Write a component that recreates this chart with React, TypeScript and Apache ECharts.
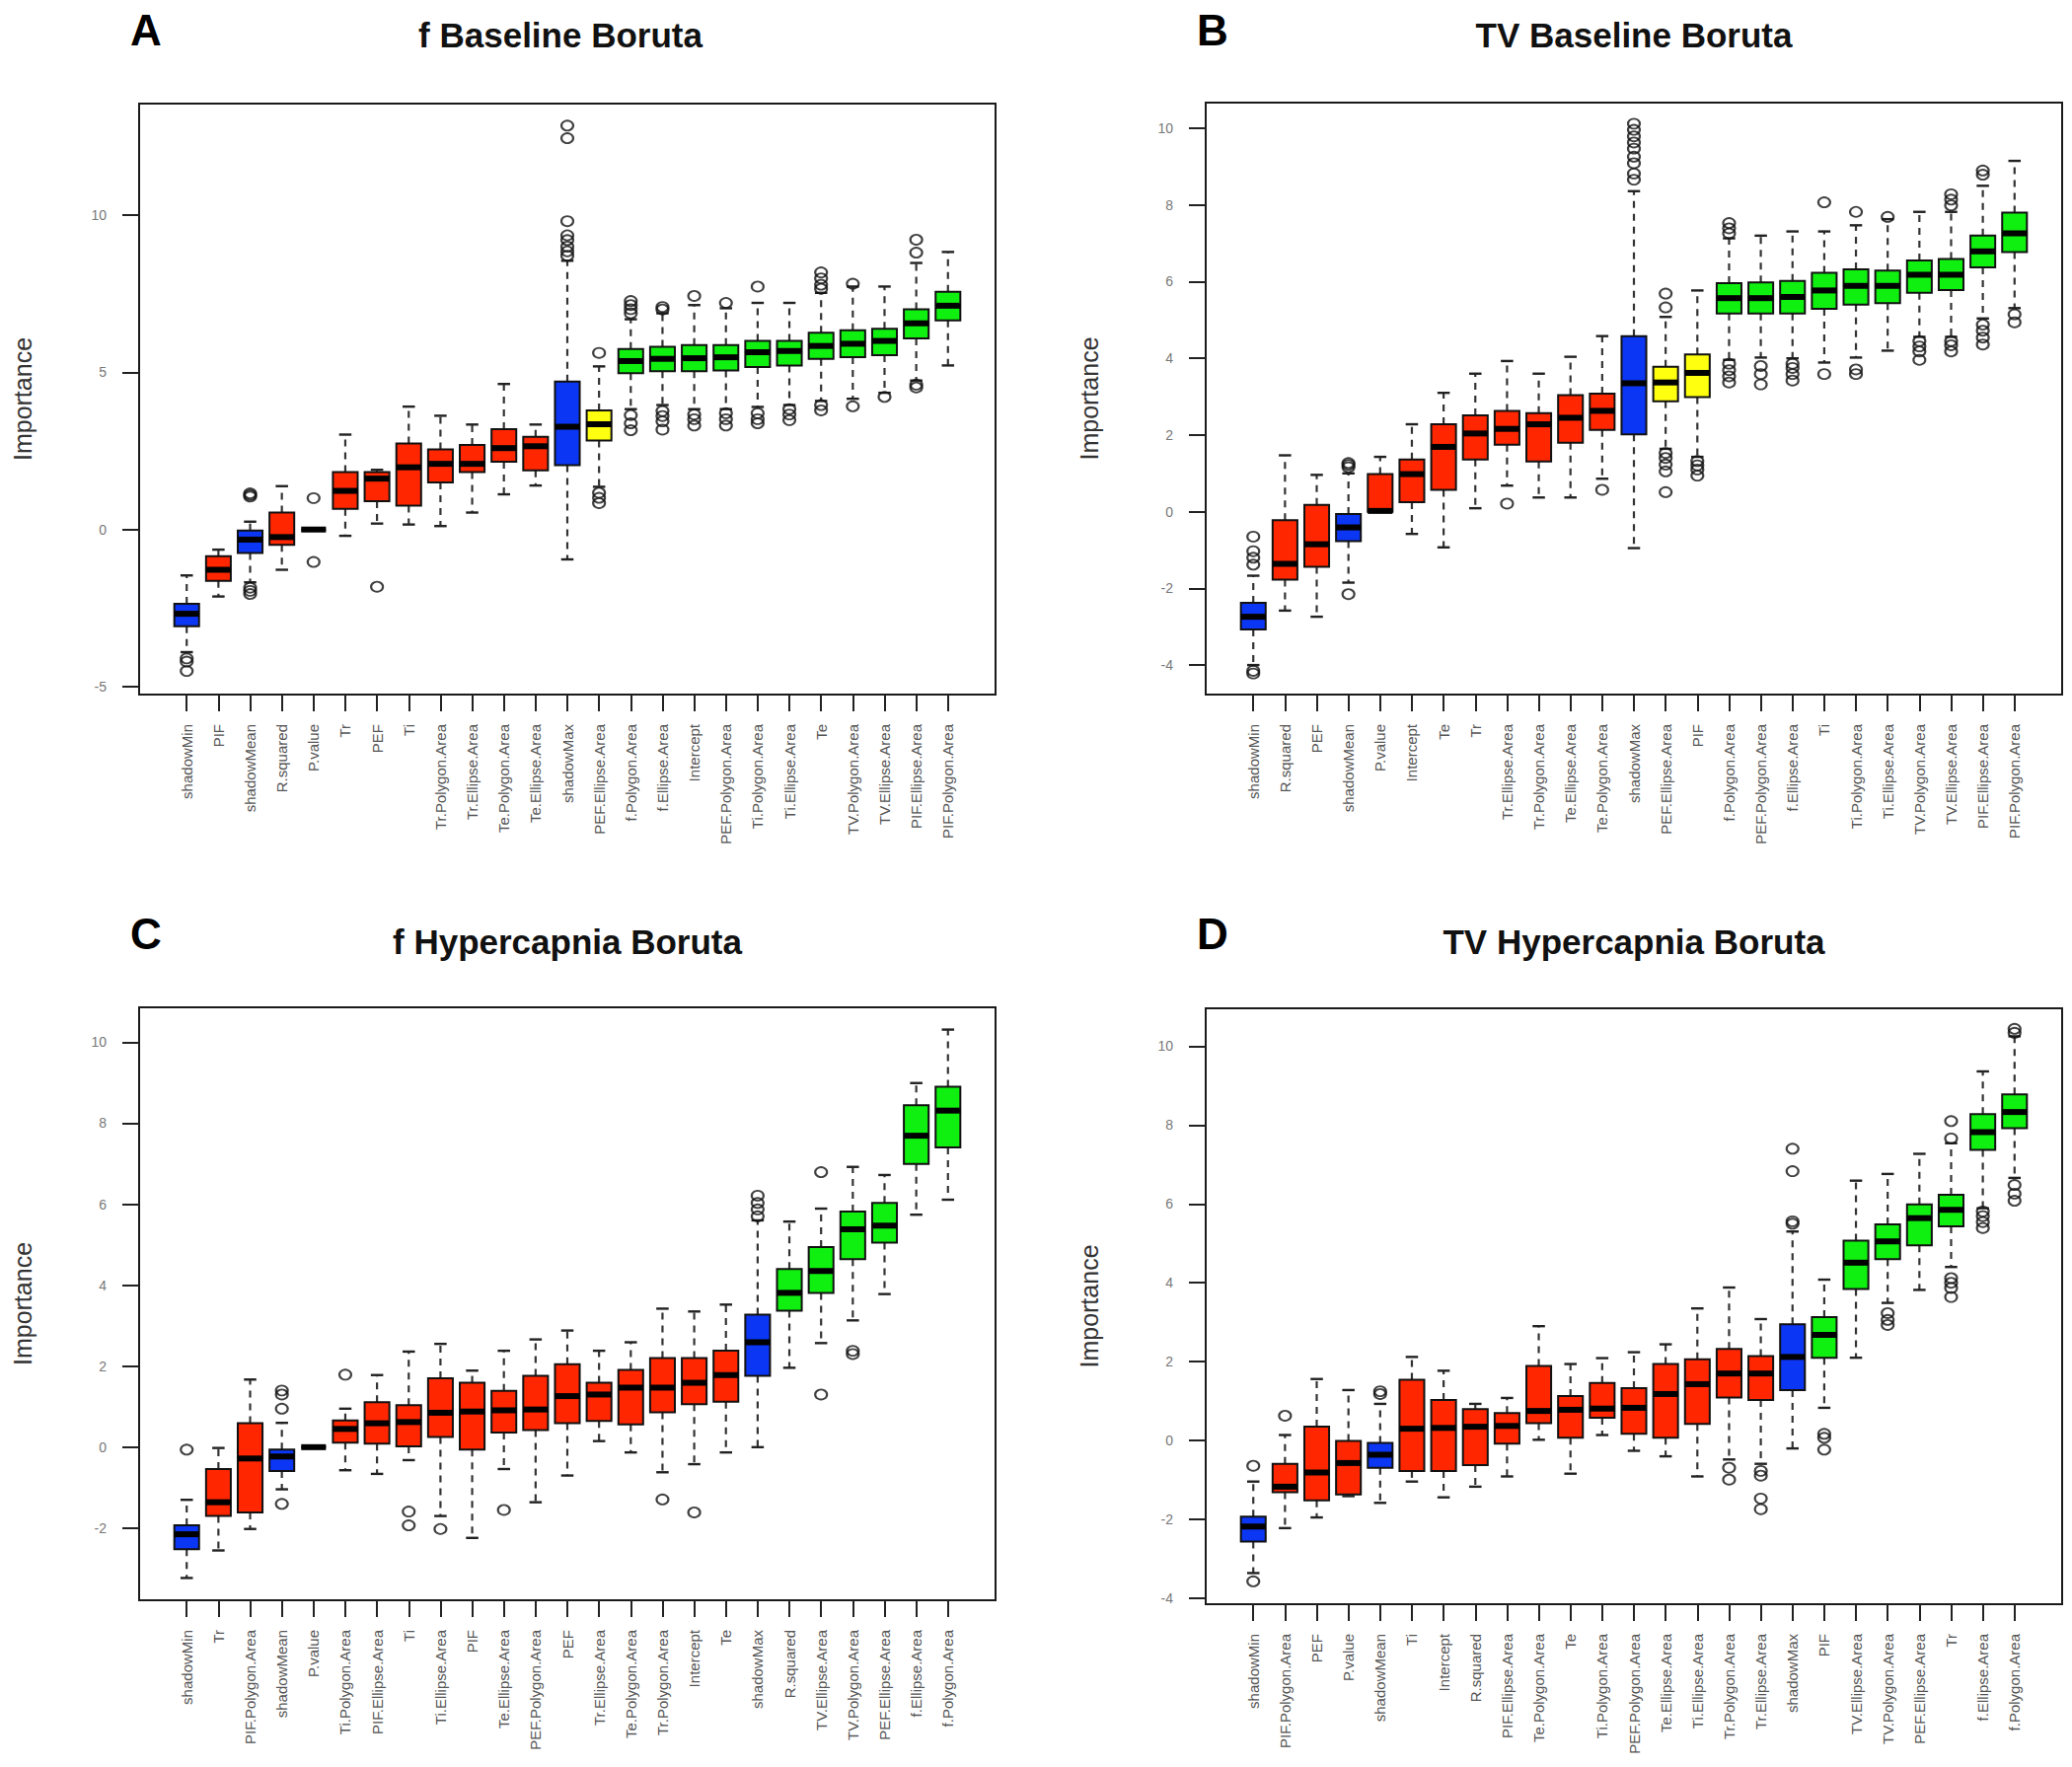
import React, { useEffect, useRef } from 'react';
import * as echarts from 'echarts';

const FONT = '"Liberation Sans", Arial, Helvetica, sans-serif';

// status: S = shadow (blue), R = rejected (red), T = tentative (yellow), C = confirmed (green)
const STATUS_COLORS: Record<string, string> = { S: '#0B36F4', R: '#FF2600', T: '#FFFF10', C: '#10F010' };

// ---------- Panel A : f Baseline Boruta ----------
const namesA = ['shadowMin', 'PIF', 'shadowMean', 'R.squared', 'P.value', 'Tr', 'PEF', 'Ti', 'Tr.Polygon.Area', 'Tr.Ellipse.Area', 'Te.Polygon.Area', 'Te.Ellipse.Area', 'shadowMax', 'PEF.Ellipse.Area', 'f.Polygon.Area', 'f.Ellipse.Area', 'Intercept', 'PEF.Polygon.Area', 'Ti.Polygon.Area', 'Ti.Ellipse.Area', 'Te', 'TV.Polygon.Area', 'TV.Ellipse.Area', 'PIF.Ellipse.Area', 'PIF.Polygon.Area'];
const statusA = ['S', 'R', 'S', 'R', 'R', 'R', 'R', 'R', 'R', 'R', 'R', 'R', 'S', 'T', 'C', 'C', 'C', 'C', 'C', 'C', 'C', 'C', 'C', 'C', 'C'];
const lowA = [-3.9, -2.13, -1.68, -1.28, 0, -0.2, 0.19, 0.16, 0.11, 0.54, 1.12, 1.4, -0.95, 1.36, 3.83, 3.96, 3.83, 3.83, 3.9, 3.96, 4.09, 4.16, 4.35, 4.74, 5.22];
const q1A = [-3.08, -1.63, -0.75, -0.49, 0, 0.66, 0.9, 0.76, 1.5, 1.83, 2.16, 1.88, 2.05, 2.83, 4.97, 5.04, 5.04, 5.06, 5.17, 5.22, 5.43, 5.48, 5.55, 6.08, 6.65];
const medA = [-2.68, -1.28, -0.32, -0.24, 0, 1.23, 1.62, 1.98, 2.09, 2.09, 2.59, 2.65, 3.27, 3.35, 5.36, 5.43, 5.45, 5.48, 5.64, 5.68, 5.84, 5.91, 6.0, 6.56, 7.12];
const q3A = [-2.36, -0.85, -0.03, 0.54, 0, 1.83, 1.83, 2.74, 2.55, 2.69, 3.19, 2.95, 4.71, 3.79, 5.74, 5.81, 5.87, 5.87, 6.0, 6.0, 6.26, 6.34, 6.39, 7.01, 7.56];
const highA = [-1.46, -0.64, 0.25, 1.38, 0, 3.02, 1.9, 3.91, 3.62, 3.34, 4.63, 3.34, 8.55, 5.19, 6.69, 6.88, 7.14, 7.04, 7.21, 7.21, 7.53, 7.73, 7.73, 8.48, 8.83];
const outA = [
  [-4.1, -4.2, -4.5], [], [1.05, 1.1, 1.15, -1.85, -1.95, -2.05], [], [1.0, -1.03], [], [-1.82], [], [], [], [], [],
  [12.85, 12.45, 9.81, 9.36, 9.21, 9.0, 8.85, 8.71], [5.62, 1.17, 1.01, 0.84],
  [7.27, 7.14, 7.01, 6.88, 3.64, 3.38, 3.16], [7.08, 7.0, 3.77, 3.61, 3.44, 3.18], [7.43, 3.66, 3.51, 3.31],
  [7.21, 3.7, 3.51, 3.31], [7.73, 3.7, 3.51, 3.38], [3.83, 3.66, 3.48], [8.18, 7.99, 7.79, 7.66, 3.96, 3.79],
  [7.82, 3.92], [4.22], [9.22, 8.81, 4.61, 4.52], [],
];
const yTicksA = [-5, 0, 5, 10];

// ---------- Panel B : TV Baseline Boruta ----------
const namesB = ['shadowMin', 'R.squared', 'PEF', 'shadowMean', 'P.value', 'Intercept', 'Te', 'Tr', 'Tr.Ellipse.Area', 'Tr.Polygon.Area', 'Te.Ellipse.Area', 'Te.Polygon.Area', 'shadowMax', 'PEF.Ellipse.Area', 'PIF', 'f.Polygon.Area', 'PEF.Polygon.Area', 'f.Ellipse.Area', 'Ti', 'Ti.Polygon.Area', 'Ti.Ellipse.Area', 'TV.Polygon.Area', 'TV.Ellipse.Area', 'PIF.Ellipse.Area', 'PIF.Polygon.Area'];
const statusB = ['S', 'R', 'R', 'S', 'R', 'R', 'R', 'R', 'R', 'R', 'R', 'R', 'S', 'T', 'T', 'C', 'C', 'C', 'C', 'C', 'C', 'C', 'C', 'C', 'C'];
const lowB = [-4.0, -2.58, -2.74, -1.85, 0, -0.58, -0.93, 0.09, 0.68, 0.37, 0.37, 0.86, -0.95, 1.64, 1.43, 3.96, 4.02, 4.0, 3.89, 4.02, 4.2, 4.56, 4.56, 5.04, 5.31];
const q1B = [-3.07, -1.77, -1.44, -0.77, 0, 0.25, 0.57, 1.36, 1.75, 1.31, 1.8, 2.13, 2.02, 2.88, 2.99, 5.17, 5.17, 5.17, 5.29, 5.4, 5.44, 5.71, 5.78, 6.37, 6.77];
const medB = [-2.74, -1.36, -0.85, -0.41, 0.02, 0.98, 1.69, 2.04, 2.16, 2.28, 2.45, 2.63, 3.35, 3.37, 3.62, 5.57, 5.57, 5.6, 5.77, 5.89, 5.89, 6.18, 6.18, 6.79, 7.26];
const q3B = [-2.38, -0.22, 0.18, -0.06, 0.98, 1.36, 2.28, 2.51, 2.63, 2.57, 3.04, 3.08, 4.58, 3.78, 4.1, 5.96, 5.98, 6.02, 6.23, 6.32, 6.29, 6.55, 6.59, 7.2, 7.8];
const highB = [-1.67, 1.47, 0.96, 1.0, 1.43, 2.28, 3.1, 3.6, 3.93, 3.6, 4.04, 4.58, 8.36, 5.08, 5.77, 7.13, 7.2, 7.31, 7.31, 7.47, 7.63, 7.82, 7.82, 8.5, 9.15];
const outB = [
  [-0.65, -1.03, -1.2, -1.38, -4.15, -4.22], [], [], [1.16, 1.22, 1.27, -2.15], [], [], [], [], [0.21], [], [], [0.57],
  [10.12, 9.96, 9.79, 9.63, 9.47, 9.26, 9.09, 8.82, 8.66], [5.69, 5.33, 1.53, 1.4, 1.23, 1.05, 0.51], [1.32, 1.21, 1.1, 0.94],
  [7.53, 7.39, 7.26, 3.86, 3.69, 3.53, 3.37], [3.8, 3.59, 3.32], [3.86, 3.75, 3.59, 3.42], [8.07, 3.59], [7.82, 3.71, 3.59],
  [7.69], [4.45, 4.31, 4.18, 3.96], [8.28, 8.14, 7.99, 4.45, 4.34, 4.18], [8.9, 8.79, 4.88, 4.72, 4.54, 4.36], [5.15, 4.94],
];
const yTicksB = [-4, -2, 0, 2, 4, 6, 8, 10];

// ---------- Panel C : f Hypercapnia Boruta ----------
const namesC = ['shadowMin', 'Tr', 'PIF.Polygon.Area', 'shadowMean', 'P.value', 'Ti.Polygon.Area', 'PIF.Ellipse.Area', 'Ti', 'Ti.Ellipse.Area', 'PIF', 'Te.Ellipse.Area', 'PEF.Polygon.Area', 'PEF', 'Tr.Ellipse.Area', 'Te.Polygon.Area', 'Tr.Polygon.Area', 'Intercept', 'Te', 'shadowMax', 'R.squared', 'TV.Ellipse.Area', 'TV.Polygon.Area', 'PEF.Ellipse.Area', 'f.Ellipse.Area', 'f.Polygon.Area'];
const statusC = ['S', 'R', 'R', 'S', 'R', 'R', 'R', 'R', 'R', 'R', 'R', 'R', 'R', 'R', 'R', 'R', 'R', 'R', 'S', 'C', 'C', 'C', 'C', 'C', 'C'];
const lowC = [-3.23, -2.55, -2.02, -1.04, 0, -0.57, -0.66, -0.32, -1.7, -2.24, -0.54, -1.36, -0.7, 0.15, -0.13, -0.62, -0.42, -0.13, 0.0, 1.96, 2.57, 3.13, 3.78, 5.74, 6.11];
const q1C = [-2.52, -1.7, -1.61, -0.59, 0, 0.11, 0.09, 0.02, 0.25, -0.06, 0.36, 0.42, 0.59, 0.65, 0.56, 0.86, 1.06, 1.12, 1.76, 3.37, 3.81, 4.64, 5.05, 6.99, 7.4];
const medC = [-2.15, -1.36, -0.28, -0.23, 0, 0.45, 0.59, 0.62, 0.85, 0.88, 0.91, 0.93, 1.26, 1.3, 1.47, 1.47, 1.59, 1.78, 2.59, 3.81, 4.35, 5.38, 5.47, 7.69, 8.31];
const q3C = [-1.93, -0.54, 0.59, -0.06, 0, 0.66, 1.11, 1.04, 1.7, 1.59, 1.39, 1.76, 2.05, 1.59, 1.91, 2.2, 2.2, 2.38, 3.27, 4.4, 4.94, 5.82, 6.03, 8.44, 8.9];
const highC = [-1.3, -0.02, 1.67, 0.6, 0, 0.95, 1.78, 2.36, 2.55, 1.89, 2.38, 2.66, 2.88, 2.38, 2.59, 3.42, 3.35, 3.52, 5.6, 5.57, 5.89, 6.92, 6.72, 8.99, 10.31];
const outC = [
  [-0.06], [], [], [1.4, 1.3, 0.95, -1.4], [], [1.79], [], [-1.59, -1.93], [-2.02], [], [-1.55], [], [], [], [],
  [-1.29], [-1.61], [], [6.21, 6.03, 5.87, 5.7], [], [6.79, 1.3], [2.38, 2.3], [], [], [],
];
const yTicksC = [-2, 0, 2, 4, 6, 8, 10];

// ---------- Panel D : TV Hypercapnia Boruta ----------
const namesD = ['shadowMin', 'PIF.Polygon.Area', 'PEF', 'P.value', 'shadowMean', 'Ti', 'Intercept', 'R.squared', 'PIF.Ellipse.Area', 'Te.Polygon.Area', 'Te', 'Ti.Polygon.Area', 'PEF.Polygon.Area', 'Te.Ellipse.Area', 'Ti.Ellipse.Area', 'Tr.Polygon.Area', 'Tr.Ellipse.Area', 'shadowMax', 'PIF', 'TV.Ellipse.Area', 'TV.Polygon.Area', 'PEF.Ellipse.Area', 'Tr', 'f.Ellipse.Area', 'f.Polygon.Area'];
const statusD = ['S', 'R', 'R', 'R', 'S', 'R', 'R', 'R', 'R', 'R', 'R', 'R', 'R', 'R', 'R', 'R', 'R', 'S', 'C', 'C', 'C', 'C', 'C', 'C', 'C'];
const lowD = [-3.36, -2.22, -1.95, -1.41, -1.58, -1.04, -1.44, -1.17, -0.91, 0.02, -0.84, 0.14, -0.26, -0.4, -0.91, -0.48, -0.59, -0.2, 0.83, 2.1, 3.49, 3.82, 4.4, 5.89, 6.66];
const q1D = [-2.56, -1.31, -1.52, -1.37, -0.69, -0.77, -0.77, -0.62, -0.08, 0.44, 0.07, 0.58, 0.17, 0.07, 0.42, 1.09, 1.03, 1.28, 2.1, 3.84, 4.6, 4.95, 5.43, 7.37, 7.92];
const medD = [-2.18, -1.17, -0.81, -0.57, -0.36, 0.3, 0.32, 0.35, 0.37, 0.75, 0.78, 0.81, 0.83, 1.18, 1.43, 1.7, 1.7, 2.12, 2.68, 4.51, 5.05, 5.64, 5.85, 7.82, 8.33];
const q3D = [-1.93, -0.59, 0.35, -0.01, -0.06, 1.54, 1.03, 0.8, 0.7, 1.89, 1.13, 1.46, 1.33, 1.94, 2.06, 2.32, 2.14, 2.95, 3.13, 5.07, 5.48, 5.99, 6.23, 8.28, 8.78];
const highD = [-1.04, 0.14, 1.56, 1.28, 0.93, 2.12, 1.77, 0.93, 1.08, 2.9, 1.94, 2.09, 2.24, 2.44, 3.35, 3.88, 3.08, 5.3, 4.08, 6.59, 6.76, 7.27, 7.54, 9.36, 10.25];
const outD = [
  [-0.64, -3.57], [0.63], [], [], [1.25, 1.18], [], [], [], [], [], [], [], [], [], [],
  [-0.69, -0.99], [-0.77, -0.89, -1.47, -1.74], [7.4, 6.83, 5.56, 5.5], [0.17, 0.07, -0.23], [],
  [3.23, 3.06, 2.93], [], [8.1, 7.66, 4.12, 4.0, 3.87, 3.64], [5.81, 5.69, 5.54, 5.39], [10.44, 10.34, 6.48, 6.26, 6.08],
];
const yTicksD = [-4, -2, 0, 2, 4, 6, 8, 10];

const titles = ['f Baseline Boruta', 'TV Baseline Boruta', 'f Hypercapnia Boruta', 'TV Hypercapnia Boruta'];
const letters = ['A', 'B', 'C', 'D'];

// layout (pixels) — kept apart from the data
const layout = [
  { left: 141, top: 105, width: 868, height: 599, yMin: -5.25, yMax: 13.55, titleX: 568, titleY: 35, letterX: 132, letterY: 30, nameGap: 106 },
  { left: 1222, top: 104, width: 868, height: 600, yMin: -4.77, yMax: 10.67, titleX: 1656, titleY: 35, letterX: 1213, letterY: 30, nameGap: 106 },
  { left: 141, top: 1021, width: 868, height: 601, yMin: -3.78, yMax: 10.86, titleX: 575, titleY: 954, letterX: 132, letterY: 946, nameGap: 106 },
  { left: 1222, top: 1022, width: 868, height: 604, yMin: -4.15, yMax: 10.96, titleX: 1656, titleY: 954, letterX: 1213, letterY: 946, nameGap: 106 },
];

const panels = [
  { names: namesA, status: statusA, low: lowA, q1: q1A, med: medA, q3: q3A, high: highA, out: outA, ticks: yTicksA },
  { names: namesB, status: statusB, low: lowB, q1: q1B, med: medB, q3: q3B, high: highB, out: outB, ticks: yTicksB },
  { names: namesC, status: statusC, low: lowC, q1: q1C, med: medC, q3: q3C, high: highC, out: outC, ticks: yTicksC },
  { names: namesD, status: statusD, low: lowD, q1: q1D, med: medD, q3: q3D, high: highD, out: outD, ticks: yTicksD },
];

function makeRenderItem(status: string[]) {
  return (params: any, api: any) => {
    const i = api.value(0);
    const pLo = api.coord([i, api.value(1)]);
    const pQ1 = api.coord([i, api.value(2)]);
    const pMed = api.coord([i, api.value(3)]);
    const pQ3 = api.coord([i, api.value(4)]);
    const pHi = api.coord([i, api.value(5)]);
    const band = api.size([1, 0])[0];
    const bw = band * 0.78;
    const cx = pMed[0];
    const half = bw / 2;
    const capHalf = bw / 4;
    const fill = STATUS_COLORS[status[params.dataIndex]];
    const dash = { stroke: '#333', lineWidth: 2.2, lineDash: [7, 6] };
    const solid = { stroke: '#222', lineWidth: 2.4 };
    return {
      type: 'group',
      children: [
        { type: 'line', shape: { x1: cx, y1: pQ3[1], x2: cx, y2: pHi[1] }, style: dash },
        { type: 'line', shape: { x1: cx, y1: pQ1[1], x2: cx, y2: pLo[1] }, style: dash },
        { type: 'line', shape: { x1: cx - capHalf, y1: pHi[1], x2: cx + capHalf, y2: pHi[1] }, style: solid },
        { type: 'line', shape: { x1: cx - capHalf, y1: pLo[1], x2: cx + capHalf, y2: pLo[1] }, style: solid },
        {
          type: 'rect',
          shape: { x: cx - half, y: pQ3[1], width: bw, height: pQ1[1] - pQ3[1] },
          style: { fill, stroke: '#111', lineWidth: 2 },
        },
        { type: 'line', shape: { x1: cx - half, y1: pMed[1], x2: cx + half, y2: pMed[1] }, style: { stroke: '#000', lineWidth: 6 } },
      ],
    };
  };
}

export default function App() {
  const ref = useRef<HTMLDivElement>(null);
  useEffect(() => {
    document.body.style.margin = '0';
    if (!ref.current) return;
    const chart = echarts.init(ref.current, null, { renderer: 'svg' });

    const grid: any[] = [];
    const xAxis: any[] = [];
    const yAxis: any[] = [];
    const series: any[] = [];
    const graphic: any[] = [];

    panels.forEach((p, k) => {
      const L = layout[k];
      grid.push({
        left: L.left, top: L.top, width: L.width, height: L.height,
        containLabel: false, outerBoundsMode: 'none',
        show: true, borderColor: '#1a1a1a', borderWidth: 2, backgroundColor: 'transparent',
      });
      xAxis.push({
        type: 'category',
        gridIndex: k,
        position: 'bottom',
        data: ['', ...p.names, ''],
        boundaryGap: true,
        axisLine: { show: false, onZero: false },
        axisTick: {
          show: true, alignWithLabel: true, length: 17,
          interval: (_idx: number, val: string) => val !== '',
          lineStyle: { color: '#222', width: 2 },
        },
        axisLabel: { interval: 0, rotate: 90, margin: 30, fontSize: 15, color: '#555', fontFamily: FONT },
        splitLine: { show: false },
      });
      yAxis.push({
        type: 'value',
        gridIndex: k,
        position: 'left',
        min: L.yMin,
        max: L.yMax,
        axisLine: { show: false, onZero: false },
        axisTick: { show: true, length: 17, customValues: p.ticks, lineStyle: { color: '#222', width: 2 } },
        axisLabel: { customValues: p.ticks, margin: 33, fontSize: 14, color: '#777', fontFamily: FONT },
        splitLine: { show: false },
        name: 'Importance',
        nameLocation: 'middle',
        nameRotate: 90,
        nameGap: L.nameGap,
        nameTextStyle: { fontSize: 25, color: '#333', fontFamily: FONT },
      });
      series.push({
        type: 'custom',
        xAxisIndex: k,
        yAxisIndex: k,
        renderItem: makeRenderItem(p.status),
        encode: { x: 0, y: [1, 2, 3, 4, 5] },
        data: p.names.map((_, i) => [i + 1, p.low[i], p.q1[i], p.med[i], p.q3[i], p.high[i]]),
        z: 2,
      });
      const pts: number[][] = [];
      p.out.forEach((arr, i) => arr.forEach((v) => pts.push([i + 1, v])));
      series.push({
        type: 'scatter',
        xAxisIndex: k,
        yAxisIndex: k,
        data: pts,
        symbol: 'circle',
        symbolSize: [12, 10],
        itemStyle: { color: 'rgba(0,0,0,0)', borderColor: '#111', borderWidth: 2 },
        z: 3,
      });
      graphic.push({
        type: 'text', x: L.titleX, y: L.titleY,
        style: { text: titles[k], font: `bold 35px ${FONT}`, fill: '#111', textAlign: 'center', textVerticalAlign: 'middle' },
      });
      graphic.push({
        type: 'text', x: L.letterX, y: L.letterY,
        style: { text: letters[k], font: `bold 44px ${FONT}`, fill: '#000', textAlign: 'left', textVerticalAlign: 'middle' },
      });
    });

    chart.setOption({
      animation: false,
      backgroundColor: '#ffffff',
      grid, xAxis, yAxis, series, graphic,
    });
    return () => chart.dispose();
  }, []);
  return <div ref={ref} style={{ width: 2100, height: 1791 }} />;
}
